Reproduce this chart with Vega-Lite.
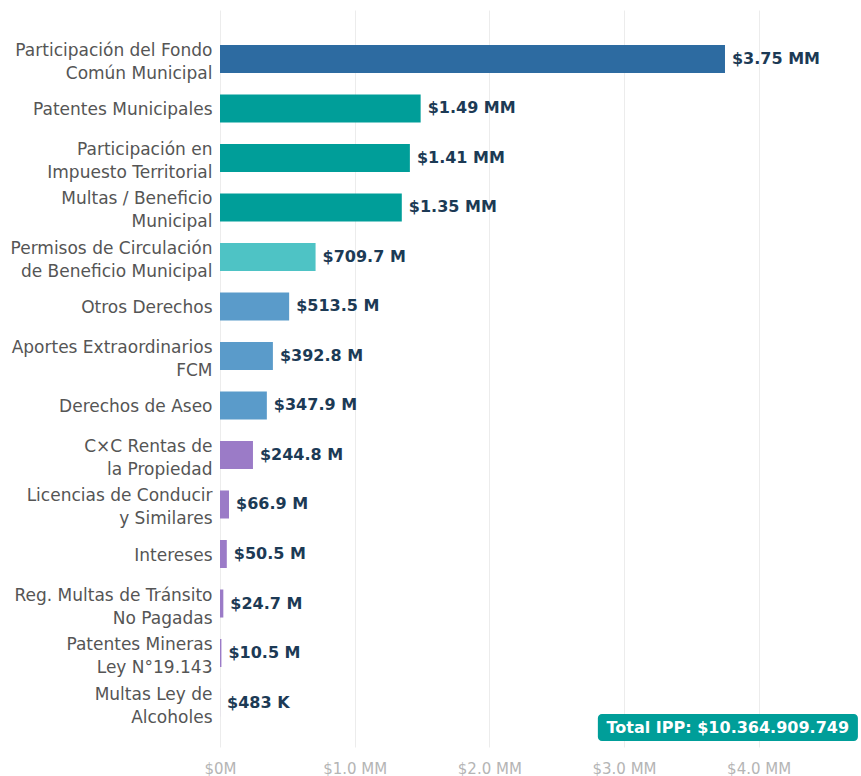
{
  "$schema": "https://vega.github.io/schema/vega-lite/v6.json",
  "autosize": {"type": "none"},
  "padding": {"left": 220, "top": 10, "right": 0, "bottom": 29},
  "width": 641,
  "height": 737,
  "background": "white",
  "config": {
    "font": "DejaVu Sans",
    "view": {"stroke": null}
  },
  "data": {
    "values": [
      {"concepto": "Participación del Fondo\nComún Municipal", "monto": 3750000000, "etiqueta": "$3.75 MM", "grupo": "A"},
      {"concepto": "Patentes Municipales", "monto": 1490000000, "etiqueta": "$1.49 MM", "grupo": "B"},
      {"concepto": "Participación en\nImpuesto Territorial", "monto": 1410000000, "etiqueta": "$1.41 MM", "grupo": "B"},
      {"concepto": "Multas / Beneficio\nMunicipal", "monto": 1350000000, "etiqueta": "$1.35 MM", "grupo": "B"},
      {"concepto": "Permisos de Circulación\nde Beneficio Municipal", "monto": 709700000, "etiqueta": "$709.7 M", "grupo": "C"},
      {"concepto": "Otros Derechos", "monto": 513500000, "etiqueta": "$513.5 M", "grupo": "D"},
      {"concepto": "Aportes Extraordinarios\nFCM", "monto": 392800000, "etiqueta": "$392.8 M", "grupo": "D"},
      {"concepto": "Derechos de Aseo", "monto": 347900000, "etiqueta": "$347.9 M", "grupo": "D"},
      {"concepto": "C×C Rentas de\nla Propiedad", "monto": 244800000, "etiqueta": "$244.8 M", "grupo": "E"},
      {"concepto": "Licencias de Conducir\ny Similares", "monto": 66900000, "etiqueta": "$66.9 M", "grupo": "E"},
      {"concepto": "Intereses", "monto": 50500000, "etiqueta": "$50.5 M", "grupo": "E"},
      {"concepto": "Reg. Multas de Tránsito\nNo Pagadas", "monto": 24700000, "etiqueta": "$24.7 M", "grupo": "E"},
      {"concepto": "Patentes Mineras\nLey N°19.143", "monto": 10500000, "etiqueta": "$10.5 M", "grupo": "E"},
      {"concepto": "Multas Ley de\nAlcoholes", "monto": 483000, "etiqueta": "$483 K", "grupo": "E"}
    ]
  },
  "encoding": {
    "y": {
      "field": "concepto",
      "type": "nominal",
      "sort": null,
      "title": null,
      "scale": {"paddingInner": 0.434, "paddingOuter": 0.66, "align": 0.534},
      "axis": {
        "labelExpr": "split(datum.value, '\\n')",
        "labelFontSize": 17,
        "labelColor": "#555555",
        "labelLineHeight": 23,
        "labelPadding": 8,
        "labelLimit": 300,
        "labelOffset": {"condition": {"test": "indexof(datum.value, '\\n') >= 0", "value": -8}, "value": 2},
        "ticks": false,
        "domain": false,
        "grid": false
      }
    }
  },
  "layer": [
    {
      "mark": {"type": "bar"},
      "encoding": {
        "x": {
          "field": "monto",
          "type": "quantitative",
          "title": null,
          "scale": {"domain": [0, 4760000000], "nice": false},
          "axis": {
            "values": [0, 1000000000, 2000000000, 3000000000, 4000000000],
            "labelExpr": "datum.value == 0 ? '$0M' : '$' + format(datum.value / 1e9, '.1f') + ' MM'",
            "labelFontSize": 15,
            "labelColor": "#b5b5b5",
            "labelPadding": 14,
            "labelFlush": false,
            "ticks": false,
            "domain": false,
            "grid": true,
            "gridColor": "#ececec",
            "gridWidth": 1
          }
        },
        "color": {
          "field": "grupo",
          "type": "nominal",
          "legend": null,
          "scale": {
            "domain": ["A", "B", "C", "D", "E"],
            "range": ["#2d6ba1", "#009e99", "#4ec3c5", "#5a9bca", "#9b7bc7"]
          }
        }
      }
    },
    {
      "mark": {"type": "text", "align": "left", "baseline": "middle", "dx": 7, "fontSize": 16, "fontWeight": "bold", "color": "#1c3a55"},
      "encoding": {
        "x": {"field": "monto", "type": "quantitative"},
        "text": {"field": "etiqueta"}
      }
    },
    {
      "data": {"values": [{"total": "Total IPP: $10.364.909.749"}]},
      "mark": {"type": "bar", "height": 27, "cornerRadius": 4, "yOffset": 25, "color": "#009e99"},
      "encoding": {
        "x": {"datum": 2806000000},
        "x2": {"datum": 4737000000},
        "y": {"datum": "Multas Ley de\nAlcoholes"}
      }
    },
    {
      "data": {"values": [{"total": "Total IPP: $10.364.909.749"}]},
      "mark": {"type": "text", "align": "center", "baseline": "middle", "yOffset": 25, "fontSize": 16, "fontWeight": "bold", "color": "white"},
      "encoding": {
        "x": {"datum": 3771000000},
        "y": {"datum": "Multas Ley de\nAlcoholes"},
        "text": {"field": "total"}
      }
    }
  ]
}
